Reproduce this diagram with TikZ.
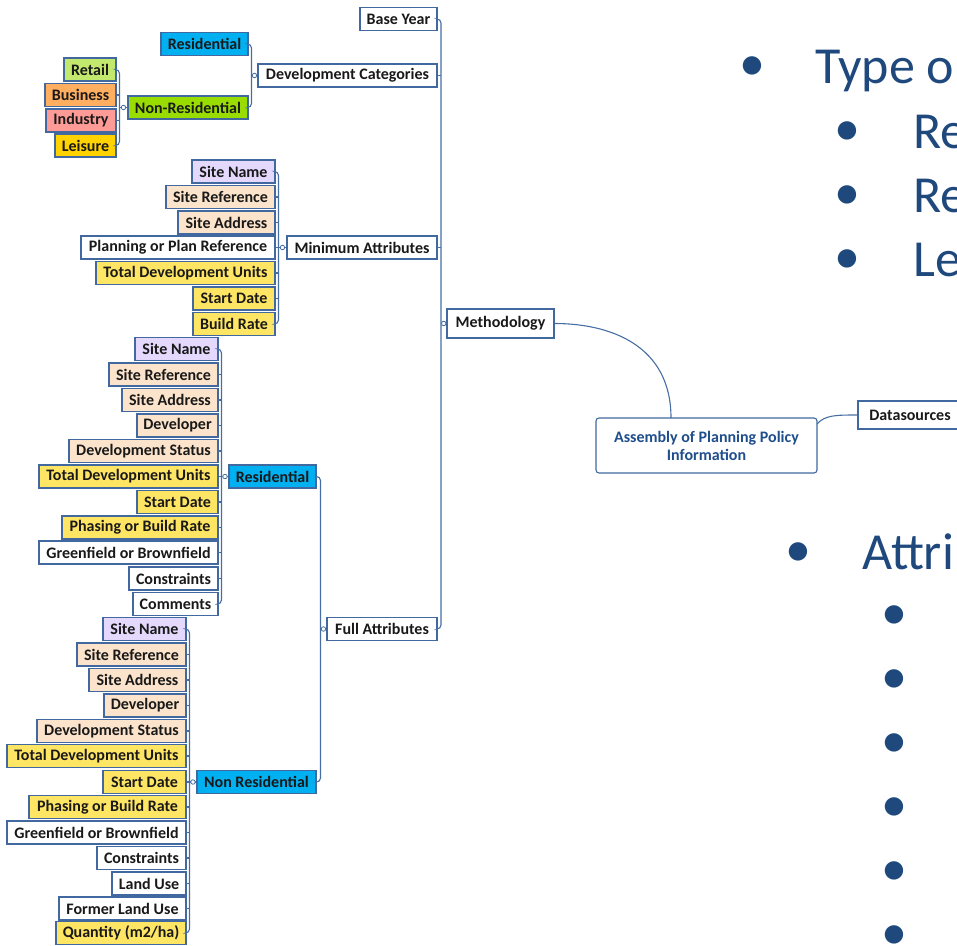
\documentclass[tikz,border=0pt]{standalone}
\usepackage{fontspec}
\setmainfont{Carlito}
\usetikzlibrary{calc}
\definecolor{lnc}{RGB}{70,110,165}
\definecolor{bdc}{RGB}{65,105,160}
\definecolor{cRes}{RGB}{0,176,240}
\definecolor{cNon}{RGB}{153,221,0}
\definecolor{cRet}{RGB}{195,232,110}
\definecolor{cBus}{RGB}{255,175,95}
\definecolor{cInd}{RGB}{255,155,150}
\definecolor{cLei}{RGB}{255,210,0}
\definecolor{cLav}{RGB}{228,216,252}
\definecolor{cPea}{RGB}{252,228,204}
\definecolor{cYel}{RGB}{255,229,100}
\definecolor{cWhi}{RGB}{255,255,255}
\definecolor{slide}{RGB}{31,73,125}
\definecolor{asmc}{RGB}{31,78,140}
\tikzset{
 mm/.style={draw=bdc, line width=1.1pt, font=\bfseries\fontsize{16}{18}\selectfont, text=black!90, minimum height=23pt, inner sep=0pt},
 conn/.style={draw=lnc, line width=1.1pt},
 knob/.style={circle, draw=lnc, fill=white, line width=0.8pt, inner sep=0pt, minimum size=4.5pt},
 slidetxt/.style={text=slide, font=\fontsize{52}{60}\selectfont, inner sep=0pt, anchor=base west},
 bul/.style={text=slide, font=\fontsize{52}{60}\selectfont, inner sep=0pt, anchor=base},
}
\newcommand\mmbox[6]{\node[mm, fill=#5, minimum width={#3pt-#2pt}] (#1) at ({(#2+#3)/2},#4) {#6};}
\begin{document}
\begin{tikzpicture}[x=1pt,y=-1pt]
\useasboundingbox (0,0) rectangle (957,945);
\clip (0,0) rectangle (957,945);
% ---------- slide text ----------
\node[bul] (b1) at (752,80) {•};
\node[slidetxt] (t1) at (815,83) {Type o};
\node[bul] (b2) at (847,145) {•};
\node[slidetxt] (t2) at (913,148) {Re};
\node[bul] (b3) at (847,209) {•};
\node[slidetxt] (t3) at (913,212) {Re};
\node[bul] (b4) at (847,273) {•};
\node[slidetxt] (t4) at (913,276) {Le};
\node[bul] (b5) at (798,566) {•};
\node[slidetxt] (t5) at (862,569) {Attri};
\node[bul] (s1) at (894,629) {•};
\node[bul] (s2) at (894,693) {•};
\node[bul] (s3) at (894,757) {•};
\node[bul] (s4) at (894,821) {•};
\node[bul] (s5) at (894,885) {•};
\node[bul] (s6) at (894,949) {•};
% ---------- trunk ----------
\mmbox{base}{360}{437}{19}{cWhi}{Base Year}
\mmbox{devcat}{258}{437}{75.5}{cWhi}{Development Categories}
\mmbox{minat}{287}{437}{247.5}{cWhi}{Minimum Attributes}
\mmbox{full}{327}{437}{629}{cWhi}{Full Attributes}
\node[mm, fill=white, minimum width=107pt, minimum height=29pt] (meth) at (500.5,323.5) {Methodology};
\node[draw=bdc, line width=1.1pt, fill=white, rounded corners=3pt, minimum width=221pt, minimum height=55pt, inner sep=0pt, align=center, text=asmc, font=\bfseries\fontsize{16}{18}\selectfont] (asm) at (706.5,445.5) {Assembly of Planning Policy\\Information};
\node[mm, fill=white, minimum width=104pt, minimum height=28pt] (ds) at (910,415) {Datasources};
% ---------- development categories ----------
\mmbox{resT}{161}{248}{44}{cRes}{Residential}
\mmbox{nonT}{128}{248}{107.5}{cNon}{Non-Residential}
\mmbox{ret}{64}{116}{69.5}{cRet}{Retail}
\mmbox{bus}{45}{116}{95}{cBus}{Business}
\mmbox{ind}{46}{116}{120.5}{cInd}{Industry}
\mmbox{lei}{55}{116}{145.5}{cLei}{Leisure}
% ---------- minimum attributes ----------
\mmbox{mSN}{192}{275}{171.5}{cLav}{Site Name}
\mmbox{mSR}{166}{275}{197}{cPea}{Site Reference}
\mmbox{mSA}{178}{275}{222.5}{cPea}{Site Address}
\mmbox{mPP}{81}{275}{247.5}{cWhi}{Planning or Plan Reference}
\mmbox{mTD}{96}{275}{273}{cYel}{Total Development Units}
\mmbox{mSD}{193}{275}{298.5}{cYel}{Start Date}
\mmbox{mBR}{193}{275}{324}{cYel}{Build Rate}
% ---------- full attributes: residential ----------
\mmbox{resM}{229}{316}{476.5}{cRes}{Residential}
\mmbox{rSN}{135}{218}{349}{cLav}{Site Name}
\mmbox{rSR}{109}{218}{374.5}{cPea}{Site Reference}
\mmbox{rSA}{122}{218}{400}{cPea}{Site Address}
\mmbox{rDV}{137}{218}{425.5}{cPea}{Developer}
\mmbox{rDS}{69}{218}{451}{cPea}{Development Status}
\mmbox{rTD}{39}{218}{476.5}{cYel}{Total Development Units}
\mmbox{rSD}{137}{218}{502}{cYel}{Start Date}
\mmbox{rPB}{62}{218}{527.5}{cYel}{Phasing or Build Rate}
\mmbox{rGB}{39}{218}{552.5}{cWhi}{Greenfield or Brownfield}
\mmbox{rCN}{129}{218}{578.5}{cWhi}{Constraints}
\mmbox{rCM}{133}{218}{604}{cWhi}{Comments}
% ---------- full attributes: non residential ----------
\mmbox{nonM}{197}{316}{782}{cRes}{Non Residential}
\mmbox{nSN}{103}{186}{629}{cLav}{Site Name}
\mmbox{nSR}{77}{186}{654.5}{cPea}{Site Reference}
\mmbox{nSA}{89}{186}{680}{cPea}{Site Address}
\mmbox{nDV}{104}{186}{705.5}{cPea}{Developer}
\mmbox{nDS}{37}{186}{731}{cPea}{Development Status}
\mmbox{nTD}{7}{186}{756}{cYel}{Total Development Units}
\mmbox{nSD}{103}{186}{782}{cYel}{Start Date}
\mmbox{nPB}{29}{186}{807}{cYel}{Phasing or Build Rate}
\mmbox{nGB}{7}{186}{832.5}{cWhi}{Greenfield or Brownfield}
\mmbox{nCN}{97}{186}{858}{cWhi}{Constraints}
\mmbox{nLU}{112}{186}{883.5}{cWhi}{Land Use}
\mmbox{nFL}{59}{186}{908.5}{cWhi}{Former Land Use}
\mmbox{nQU}{56}{186}{933}{cYel}{Quantity (m2/ha)}
% ---------- vertical bus lines ----------
\coordinate (vT) at (441,0);
\coordinate (vD) at (251.5,0);
\coordinate (vN) at (119.5,0);
\coordinate (vM) at (278.5,0);
\coordinate (vF) at (320.5,0);
\coordinate (vR) at (221.5,0);
\coordinate (vQ) at (189.5,0);
% trunk
\draw[conn, rounded corners=4pt] (base.east) -| (vT |- full.east) -- (full.east);
\foreach \c in {devcat,minat} \draw[conn] (\c.east) -- (\c.east -| vT);
\draw[conn] (vT |- meth.west) -- (meth.west);
\node[knob] (kT) at ($(vT |- meth.west)!0.5!(meth.west)$) {};
% development categories
\draw[conn, rounded corners=4pt] (resT.east) -| (vD |- nonT.east) -- (nonT.east);
\draw[conn] (vD |- devcat.west) -- (devcat.west);
\node[knob] (kD) at ($(vD |- devcat.west)!0.5!(devcat.west)$) {};
% non-residential
\draw[conn, rounded corners=4pt] (ret.east) -| (vN |- lei.east) -- (lei.east);
\foreach \c in {bus,ind} \draw[conn] (\c.east) -- (\c.east -| vN);
\draw[conn] (vN |- nonT.west) -- (nonT.west);
\node[knob] (kN) at ($(vN |- nonT.west)!0.5!(nonT.west)$) {};
% minimum attributes
\draw[conn, rounded corners=4pt] (mSN.east) -| (vM |- mBR.east) -- (mBR.east);
\foreach \c in {mSR,mSA,mPP,mTD,mSD} \draw[conn] (\c.east) -- (\c.east -| vM);
\draw[conn] (vM |- minat.west) -- (minat.west);
\node[knob] (kM) at ($(vM |- minat.west)!0.5!(minat.west)$) {};
% full attributes
\draw[conn, rounded corners=4pt] (resM.east) -| (vF |- nonM.east) -- (nonM.east);
\draw[conn] (vF |- full.west) -- (full.west);
\node[knob] (kF) at ($(vF |- full.west)!0.5!(full.west)$) {};
% residential
\draw[conn, rounded corners=4pt] (rSN.east) -| (vR |- rCM.east) -- (rCM.east);
\foreach \c in {rSR,rSA,rDV,rDS,rTD,rSD,rPB,rGB,rCN} \draw[conn] (\c.east) -- (\c.east -| vR);
\draw[conn] (vR |- resM.west) -- (resM.west);
\node[knob] (kR) at ($(vR |- resM.west)!0.5!(resM.west)$) {};
% non residential
\draw[conn, rounded corners=4pt] (nSN.east) -| (vQ |- nQU.east) -- (nQU.east);
\foreach \c in {nSR,nSA,nDV,nDS,nTD,nSD,nPB,nGB,nCN,nLU,nFL} \draw[conn] (\c.east) -- (\c.east -| vQ);
\draw[conn] (vQ |- nonM.west) -- (nonM.west);
\node[knob] (kQ) at ($(vQ |- nonM.west)!0.5!(nonM.west)$) {};
% curved links
\coordinate (asmTop) at (671,418);
\draw[conn] (meth.east) .. controls (610,323.5) and (671,345) .. (asmTop);
\coordinate (asmR) at (817,424);
\draw[conn] (asmR) .. controls (825,415) and (836,415) .. (ds.west);
\end{tikzpicture}
\end{document}
